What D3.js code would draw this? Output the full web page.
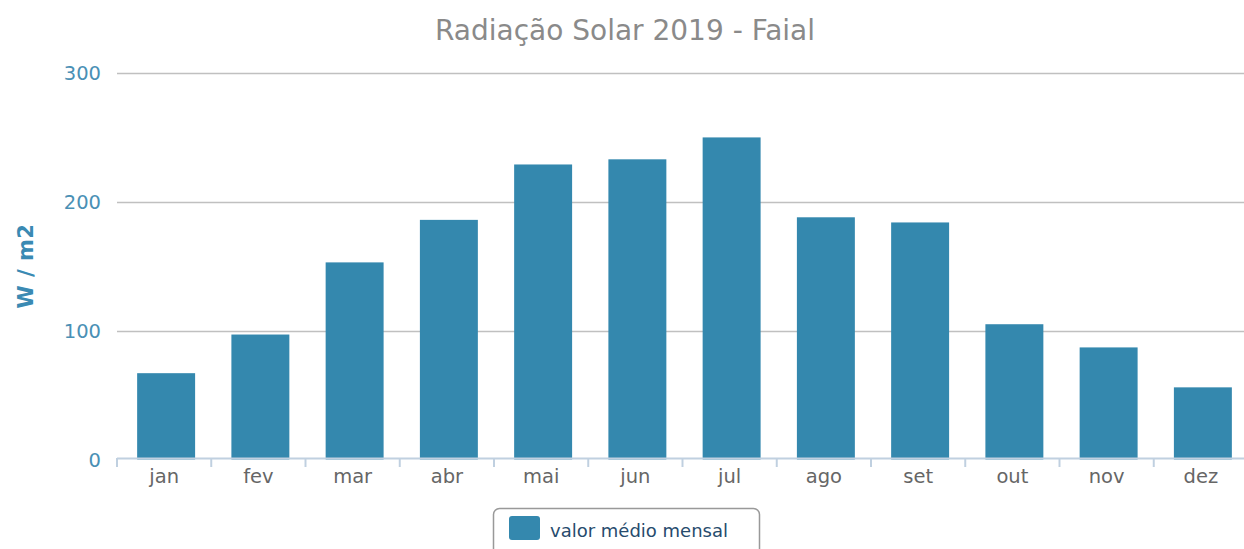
<!DOCTYPE html>
<html>
<head>
<meta charset="utf-8">
<script src="https://cdn.jsdelivr.net/npm/d3@7"></script>
<style>
  html, body { margin: 0; padding: 0; background: #fff; overflow: hidden; }
  text { font-family: "DejaVu Sans", "Lucida Grande", sans-serif; }
</style>
</head>
<body>
<div id="chart"></div>
<script>
var months = ["jan", "fev", "mar", "abr", "mai", "jun", "jul", "ago", "set", "out", "nov", "dez"];
var radiation = [67, 97, 153, 186, 229, 233, 250, 188, 184, 105, 87, 56];
var yTicks = [0, 100, 200, 300];

var chartW = 1244, chartH = 549;
var plotLeft = 117, plotRight = 1248, plotTop = 73, plotBottom = 459.5;

var svg = d3.select("#chart").append("svg")
  .attr("width", chartW)
  .attr("height", chartH);

var x = d3.scaleBand()
  .domain(months)
  .range([plotLeft, plotRight])
  .paddingInner(0.385)
  .paddingOuter(0.1925);

var y = d3.scaleLinear()
  .domain([0, 300])
  .range([plotBottom, plotTop]);

// title
svg.append("text")
  .attr("x", 625)
  .attr("y", 40)
  .attr("text-anchor", "middle")
  .attr("font-size", 28)
  .style("fill", "#8a8a8a")
  .text("Radiação Solar 2019 - Faial");

// grid lines
svg.append("g").selectAll("line")
  .data(yTicks.filter(function(d){ return d > 0; }))
  .enter().append("line")
  .attr("x1", plotLeft)
  .attr("x2", chartW)
  .attr("y1", function(d){ return Math.round(y(d)) + 0.5; })
  .attr("y2", function(d){ return Math.round(y(d)) + 0.5; })
  .style("stroke", "#c0c0c0")
  .style("stroke-width", 1.5);

// y labels
svg.append("g").selectAll("text")
  .data(yTicks)
  .enter().append("text")
  .attr("x", 101)
  .attr("y", function(d){ return y(d) + 7; })
  .attr("text-anchor", "end")
  .attr("font-size", 19.5)
  .style("fill", "#4a90b5")
  .text(function(d){ return d; });

// y axis title
svg.append("text")
  .attr("transform", "translate(33,266) rotate(-90)")
  .attr("text-anchor", "middle")
  .attr("font-size", 21)
  .attr("font-weight", "bold")
  .attr("letter-spacing", 0.5)
  .style("fill", "#3a8ab3")
  .text("W / m2");

// bars (small nudge right, like the original renderer)
svg.append("g").selectAll("rect")
  .data(radiation)
  .enter().append("rect")
  .attr("x", function(d, i){ return x(months[i]) + 2; })
  .attr("y", function(d){ return y(d); })
  .attr("width", x.bandwidth())
  .attr("height", function(d){ return y(0) - y(d); })
  .style("fill", "#3488ae");

// x axis
var xAxis = d3.axisBottom(x).tickSize(0).tickPadding(11);
var gx = svg.append("g")
  .attr("transform", "translate(0," + 458 + ")")
  .call(xAxis);
gx.select(".domain").remove();
gx.selectAll("text")
  .attr("font-size", 19.5)
  .style("fill", "#666")
  .style("font-family", "'DejaVu Sans', sans-serif");

svg.append("line")
  .attr("x1", plotLeft).attr("x2", chartW)
  .attr("y1", 458.5).attr("y2", 458.5)
  .style("stroke", "#c0d0e0")
  .style("stroke-width", 2);

var step = x.step();
svg.append("g").selectAll("line")
  .data(d3.range(months.length + 1))
  .enter().append("line")
  .attr("x1", function(d){ return plotLeft + d * step; })
  .attr("x2", function(d){ return plotLeft + d * step; })
  .attr("y1", 458)
  .attr("y2", 467)
  .style("stroke", "#c0d0e0")
  .style("stroke-width", 2);

// legend
var legend = svg.append("g");
legend.append("rect")
  .attr("x", 493.5).attr("y", 508.5)
  .attr("width", 266).attr("height", 50)
  .attr("rx", 6)
  .style("fill", "#fff")
  .style("stroke", "#999")
  .style("stroke-width", 1.5);
legend.append("rect")
  .attr("x", 509).attr("y", 516)
  .attr("width", 31).attr("height", 24)
  .attr("rx", 3)
  .style("fill", "#3488ae");
legend.append("text")
  .attr("x", 550).attr("y", 537)
  .attr("font-size", 18)
  .style("fill", "#274b6d")
  .text("valor médio mensal");
</script>
</body>
</html>
